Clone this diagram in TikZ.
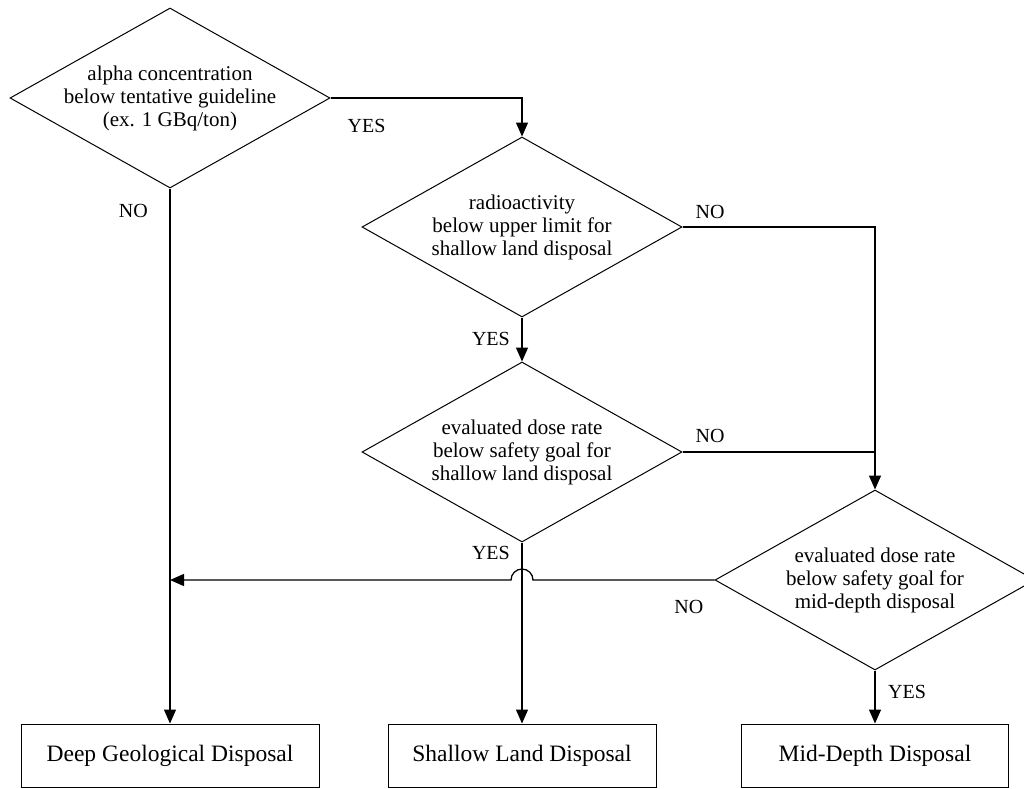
\documentclass[tikz,border=0pt]{standalone}
\usepackage{fontspec}
\setmainfont{Liberation Serif}
\usetikzlibrary{shapes.geometric,arrows.meta,calc}

\tikzset{
  decision/.style={draw, shape=diamond, shape aspect=1.78, line width=1pt,
    minimum width=320pt, minimum height=180pt, inner sep=-12pt, align=center,
    font=\fontsize{21}{23}\selectfont},
  outcome/.style={draw, rectangle, line width=1pt, minimum height=63pt,
    font=\fontsize{23.5}{26}\selectfont},
  answer/.style={inner sep=0pt, font=\fontsize{20}{22}\selectfont},
  link/.style={line width=1.3pt},
  flow/.style={link, -{Triangle[length=14pt,width=12pt]}},
}

\begin{document}
\begin{tikzpicture}[x=1pt, y=-1pt]
		%%%%% START %%%%%
		\fill[white] (0, 0) rectangle (1024, 788);
		\useasboundingbox (0, 0) rectangle (1024, 788);
		
		\node[decision] (alpha) at (170, 98) {alpha concentration\\below tentative guideline\\(ex. 1 GBq/ton)};
		\node[decision] (upper) at (522, 227) {radioactivity\\below upper limit for\\shallow land disposal};
		\node[decision] (doseshallow) at (522, 452) {evaluated dose rate\\below safety goal for\\shallow land disposal};
		\node[decision] (dosemid) at (875, 580) {evaluated dose rate\\below safety goal for\\mid-depth disposal};
		
		\node[outcome, minimum width=298pt] (deep) at (170, 755.5) {Deep Geological Disposal};
		\node[outcome, minimum width=268pt] (shallow) at (522, 755.5) {Shallow Land Disposal};
		\node[outcome, minimum width=267pt] (mid) at (875, 755.5) {Mid-Depth Disposal};
		
		\draw[flow] (alpha.east) -| (upper.north);
		\draw[flow] (upper.south) -- (doseshallow.north);
		\draw[flow] (upper.east) -- (upper.east -| dosemid.north) -- (dosemid.north);
		\draw[link] (doseshallow.east) -- (doseshallow.east -| dosemid.north);
		\draw[flow] (alpha.south) -- (deep.north);
		\draw[flow] (doseshallow.south) -- (shallow.north);
		\draw[flow] (dosemid.south) -- (mid.north);
		\draw[flow] (dosemid.west) -- ($(doseshallow.south |- dosemid.west)+(11, 0)$)
			arc[start angle=0, end angle=180, radius=11pt] -- (alpha.south |- dosemid.west);
		
		\node[answer, anchor=base west] (yesalpha) at ($(alpha.east)+(17, 34)$) {YES};
		\node[answer, anchor=base east] (noalpha) at ($(alpha.south)+(-22, 29)$) {NO};
		\node[answer, anchor=base west] (noupper) at ($(upper.east)+(13, -9)$) {NO};
		\node[answer, anchor=base east] (yesupper) at ($(upper.south)+(-12, 28)$) {YES};
		\node[answer, anchor=base west] (nodose) at ($(doseshallow.east)+(13, -10)$) {NO};
		\node[answer, anchor=base east] (yesdose) at ($(doseshallow.south)+(-12, 17)$) {YES};
		\node[answer, anchor=base east] (nomid) at ($(dosemid.west)+(-11, 33)$) {NO};
		\node[answer, anchor=base west] (yesmid) at ($(dosemid.south)+(13, 28)$) {YES};
		
		%%%%% END %%%%%
\end{tikzpicture}
\end{document}
